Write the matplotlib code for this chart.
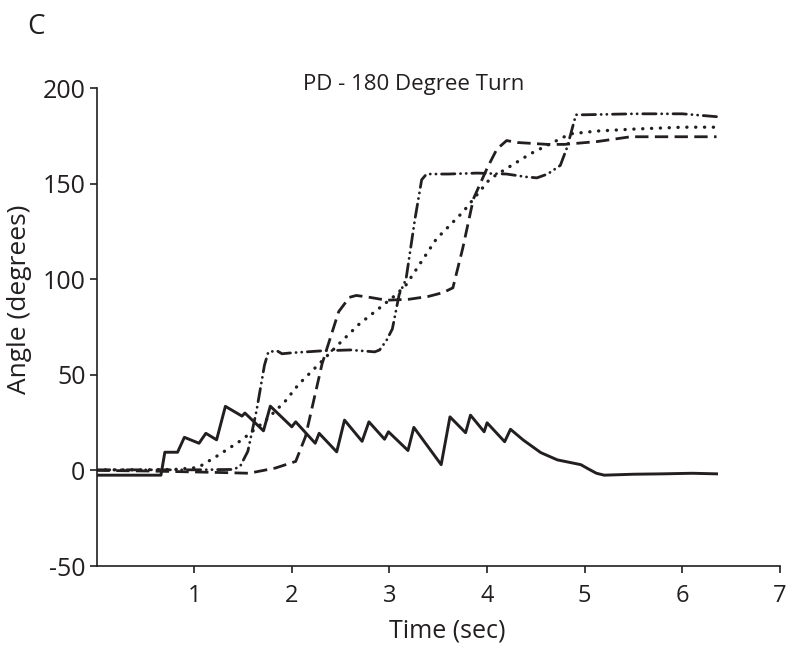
import matplotlib
matplotlib.use("Agg")
import matplotlib.pyplot as plt

plt.rcParams['font.family'] = ['Open Sans', 'DejaVu Sans']
plt.rcParams['axes.unicode_minus'] = False

# Solid curve
solid_t = [0.0, 0.66, 0.70, 0.83, 0.90, 1.05, 1.12, 1.23, 1.32, 1.49, 1.52, 1.71, 1.78,
           2.00, 2.04, 2.24, 2.28, 2.46, 2.54, 2.72, 2.79, 2.95, 2.99, 3.19, 3.25, 3.53,
           3.62, 3.78, 3.83, 3.97, 4.00, 4.18, 4.24, 4.37, 4.55, 4.72, 4.96, 5.04, 5.12,
           5.20, 5.50, 5.80, 6.10, 6.35]
solid_a = [-2.5, -2.5, 9.5, 9.5, 17.3, 14.2, 19.4, 16.0, 33.5, 28.4, 30.0, 20.7, 33.6,
           22.8, 25.4, 14.2, 19.4, 9.7, 26.3, 15.2, 25.4, 16.3, 20.2, 10.4, 22.5, 3.0,
           28.0, 19.7, 28.9, 20.2, 24.9, 15.0, 21.5, 15.9, 9.3, 5.5, 3.0, 0.7, -1.5,
           -2.5, -2.0, -1.8, -1.5, -1.8]

# Dotted curve
dot_t = [0.0, 0.5, 0.8, 1.04, 1.25, 1.49, 1.73, 1.93, 2.07, 2.28, 2.48, 2.69, 2.90,
         3.07, 3.17, 3.48, 3.75, 4.03, 4.44, 4.85, 5.13, 5.50, 6.00, 6.35]
dot_a = [0.3, 0.3, 0.5, 1.5, 8.0, 16.0, 26.0, 36.0, 45.0, 55.7, 66.0, 76.5, 85.0,
         92.0, 97.0, 121.0, 135.0, 152.5, 165.5, 176.0, 177.5, 178.5, 179.5, 179.5]

# Dashed curve
dash_t = [0.0, 0.5, 1.0, 1.35, 1.56, 1.83, 2.04, 2.14, 2.31, 2.48, 2.59, 2.66, 2.80,
          2.97, 3.20, 3.40, 3.55, 3.65, 3.75, 3.86, 4.00, 4.10, 4.20, 4.31, 4.62,
          4.79, 5.13, 5.47, 6.00, 6.35]
dash_a = [0.0, -0.3, -0.8, -1.2, -1.5, 1.2, 4.7, 17.6, 55.7, 83.0, 90.5, 91.5, 90.5,
          89.0, 89.5, 91.0, 93.0, 95.5, 116.0, 142.0, 158.0, 168.0, 172.5, 171.5, 170.5,
          170.5, 172.0, 174.5, 174.5, 174.5]

# Dash-dot-dot curve
ddd_t = [0.0, 1.0, 1.40, 1.47, 1.55, 1.64, 1.72, 1.76, 1.85, 1.90, 2.00, 2.30, 2.60,
         2.85, 2.90, 2.97, 3.03, 3.10, 3.17, 3.26, 3.33, 3.38, 3.60, 3.90, 4.20, 4.40,
         4.51, 4.62, 4.75, 4.82, 4.91, 5.00, 5.50, 6.00, 6.35]
ddd_a = [0.3, 0.3, 0.5, 2.0, 10.0, 31.5, 55.0, 62.0, 62.5, 61.0, 61.5, 62.5, 63.0,
         62.0, 63.0, 68.0, 74.0, 92.0, 100.0, 131.0, 152.0, 155.0, 155.0, 155.5, 155.0,
         153.5, 153.0, 155.0, 159.5, 169.0, 186.0, 186.0, 186.5, 186.5, 185.0]

x_ticks = [1, 2, 3, 4, 5, 6, 7]
y_ticks = [-50, 0, 50, 100, 150, 200]

fig = plt.figure(figsize=(8.0, 6.51), dpi=100)
ax = fig.add_axes([96.5 / 800, 1 - 566 / 651, (780 - 96.5) / 800, (566 - 88) / 651])

lw = 2.0
col = '#231f20'
ax.plot(solid_t, solid_a, color=col, lw=2.1, solid_joinstyle='round')
ax.plot(dot_t, dot_a, color=col, lw=2.4, linestyle=(0, (0.05, 2.6)), dash_capstyle='round')
ax.plot(dash_t, dash_a, color=col, lw=lw, linestyle=(0, (4.8, 2.3)))
ax.plot(ddd_t, ddd_a, color=col, lw=lw,
        linestyle=(0, (4.8, 2.0, 0.05, 2.0, 0.05, 2.0)), dash_capstyle='round')

ax.set_xlim(0, 7)
ax.set_ylim(-50, 200)
ax.set_xticks(x_ticks)
ax.set_yticks(y_ticks)
ax.spines['top'].set_visible(False)
ax.spines['right'].set_visible(False)
for s in ('left', 'bottom'):
    ax.spines[s].set_linewidth(1.2)
    ax.spines[s].set_color(col)
ax.tick_params(axis='both', direction='out', length=5, width=1.2, color=col,
               labelcolor=col)
ax.tick_params(axis='y', pad=3, labelsize=18)
ax.tick_params(axis='x', pad=8, labelsize=17)

fig.text(414 / 800, 1 - 90 / 651, 'PD - 180 Degree Turn', ha='center', va='baseline',
         fontsize=16, color=col)
fig.text(447 / 800, 1 - 637 / 651, 'Time (sec)', ha='center', va='baseline',
         fontsize=18, color=col)
fig.text(20 / 800, 1 - 299 / 651, 'Angle (degrees)', ha='center', va='center',
         rotation=90, fontsize=19, color=col)
fig.text(27 / 800, 1 - 34 / 651, 'C', ha='left', va='baseline', fontsize=20, color=col)

fig.savefig('out.png', dpi=100)
